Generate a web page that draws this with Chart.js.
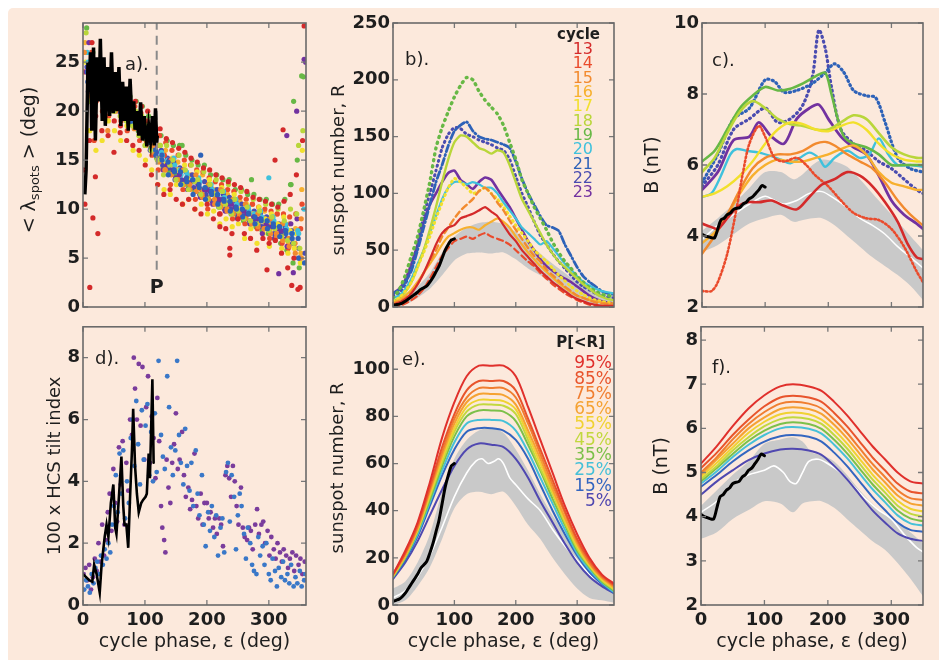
<!DOCTYPE html>
<html><head><meta charset="utf-8">
<script src="https://cdn.jsdelivr.net/npm/chart.js@4/dist/chart.umd.min.js"></script>
<style>
html,body{margin:0;padding:0;background:#fff;width:939px;height:660px;overflow:hidden;}
#bg{position:absolute;left:8px;top:8px;width:931px;height:652px;background:#fce9dc;border-top-left-radius:5px;}
canvas{position:absolute;}
</style></head><body>
<div id="bg"></div>
<canvas id="ca" width="305" height="320" style="left:8px;top:8px"></canvas>
<canvas id="cb" width="308" height="320" style="left:313px;top:8px"></canvas>
<canvas id="cc" width="312" height="320" style="left:621px;top:8px"></canvas>
<canvas id="cd" width="305" height="347" style="left:8px;top:313px"></canvas>
<canvas id="ce" width="308" height="347" style="left:313px;top:313px"></canvas>
<canvas id="cf" width="312" height="347" style="left:621px;top:313px"></canvas>
<script>
// ---------------- DATA ----------------
const cycles = ['13','14','15','16','17','18','19','20','21','22','23'];
const cycleColors = ['#d42a2a','#ea4b2c','#f28a2e','#f7b02e','#f2e02c','#b9d63a','#67b845','#3fc1dc','#2e62b8','#4a4cb0','#7232a0'];

// panel a: mean spot latitude per cycle, two interleaved samplings of phase
const phaseA = [5,15,25,35,45,55,65,75,85,95,105,115,125,135,145,155,165,175,185,195,205,215,225,235,245,255,265,275,285,295,305,315,325,335,345,355];
const phaseA2 = [10,20,30,40,50,60,70,80,90,100,110,120,130,140,150,160,170,180,190,200,210,220,230,240,250,260,270,280,290,300,310,320,330,340,350];
const offsetA = [-4.5,-3.6,-2.7,-1.8,-0.9,0,0.9,1.8,2.7,3.6,4.5];
const lat13 = [14,17,19.5,18,17.5,19,18.5,17,16.5,16,14.5,13.5,12.5,11.5,12,11,10.5,11,10,9.5,10.5,9,9.5,8,7.5,9,7.5,7,5.8,7,6.5,6.8,5.5,4,5,2];
const lat14 = [24,22,21,20,19.5,21,19,18,19.5,17,16.5,15.5,14,15.5,12.5,14,12,13,11,12,10,11.5,9.5,10.5,9,10,8.5,9.5,8,8.8,7,8,6.5,6,6.5,8];
const lat15 = [26,24,23,22,22.5,21,21.5,20,20,18.5,18.5,16.5,16.5,14,15,13,14,12.5,13.5,11.5,12.5,11,12,10,11,9.5,10.5,8.5,9.5,8,9,7.5,8.5,7,6.5,9];
const lat16 = [27,23.5,22.5,22,21,20.5,20,19.5,18.5,18,17.5,17,15,16,14.5,14.8,12.5,13.5,12,13.5,11,12,10.5,11.5,10,10.8,9.2,10.5,8.5,9.8,8.5,9.5,7.5,8.5,8,12];
const lat17 = [25,24,23,22.5,22.5,21,21.5,19.8,19.5,18.5,18.5,17,16.5,14.8,15.2,14,14.5,13,13.8,12,13,11.5,12.2,10.8,11.5,10,10.5,9.5,10.2,9,9.5,8.5,9.2,7.8,7.5,16];
const lat18 = [28,25,24,23,22.5,22.5,21.5,21,20,19.5,18.5,18,16.5,16.5,15,15.5,14,14.5,13,13.8,12.5,13,11.8,12.5,11,11.8,10.2,11,9.8,10.5,9.2,10,8.8,10,9.5,18];
const lat19 = [28.5,26,24.5,23.5,23,23,22,21.5,21,20.5,19.5,18.5,17.5,17,16.5,16.5,15.5,15,14.5,14.5,13.5,13.5,13,13,12,12,11.5,11.5,11,11,10.5,10.5,11,12.5,15,23.5];
const lat20 = [26,24,23,22,21.5,21,20.5,20,19.2,18.2,17.5,16.5,15.8,15,15.2,14,13.8,13,13.2,12.2,12.5,11.5,11.8,10.8,11,10,10.2,9.5,9.8,8.8,9.2,8.2,8.5,7.5,7.8,10];
const lat21 = [23,23.5,22,21,21,20.5,19.5,19,18.5,17.5,16.8,15.5,15,13.5,13.8,12.5,12.8,11.5,12.2,11,11.5,10.5,10.8,9.8,10,9.2,9.5,8.5,8.8,8,8.2,7.2,7.5,7,5,4.5];
const lat22 = [22,22.5,21.5,20.8,20.5,20,19.8,19,18.2,17.5,16,15.8,14.5,14.2,13,13,12,12.2,11.5,11.5,10.8,10.8,10,10,9.5,9.5,8.8,8.8,8.2,8.2,7.5,7.5,7,6.5,6,5.5];
const lat23 = [27,24,23,22,21,20.5,20,19.5,18.8,18,17,16.5,14,15,13.2,14,12,12.8,11.2,12,10.5,11,9.8,10.5,9,9.8,8.5,9,7.5,8,7,7.8,6.2,3.5,5,25];
const lat13b = [27,25,24,23.5,22.8,22.2,21.8,21,20.5,20,19.2,18.2,17.2,16.8,16.2,15.8,15.2,14.8,14.2,14,13.5,13.2,12.8,12.5,12.2,11.8,11.2,11,10.8,10.5,10.2,10.8,11.5,13.5,17];
const lat14b = [26,24.5,23.5,22.8,22,21.8,21,20.5,19.8,19,18.5,17.5,16.8,16,15.5,15,14.5,14,13.8,13.2,12.8,12.5,12,11.8,11.2,11,10.5,10.2,10,9.8,9.5,9.5,9.2,9.5,10.5];
const lat15b = [21.5,22,21,20.5,20,19.5,19,18.2,17.5,16.8,15.8,14.8,14,13.5,13,12.5,12,11.8,11.2,11,10.5,10.2,9.8,9.5,9.2,9,8.5,8.2,8,7.5,7.2,6.8,6.2,5.5,5];
const lat16b = [22.5,22,21.5,20.8,20.2,19.8,19.2,18.5,17.8,17,16.2,15.2,14.2,13.8,13.2,12.8,12.2,12,11.5,11.2,10.8,10.5,10,9.8,9.5,9,8.8,8.5,8.2,7.8,7.5,7,6.5,6,5.5];
const lat17b = [18,16,17,19,18,17,18.5,16,15.5,15,14,12.5,12,11.5,12.5,10.5,11,10,10.5,9.5,9.8,8.5,9,8.2,8.5,7,8,6.5,7.5,6.2,7,6,5.5,6,4.5];
const lat18b = [21,23,21.5,20.5,20,19.5,19,18.5,17.5,16.5,16,15,13.5,14.5,13,12.5,12,12.8,11.5,11,11.5,10.2,10.5,9.5,9.8,9,8.8,8.5,8.8,7.8,8,7.2,6.8,6.5,6];
const lat19b = [23,22.5,21.8,21.2,20.5,20,19.5,18.8,18,17.2,16.2,15.2,14.2,13.8,13.5,12.8,12.5,12,11.5,11.2,10.8,10.2,10,9.5,9.2,8.8,8.5,8.2,7.8,7.5,7,6.5,5.8,4.5,4];
const lat20b = [25,23,22.5,21.8,21.2,20.8,20.2,19.8,18.8,18.2,17.2,16.5,15.5,14.5,14.5,13.5,13.5,12.8,12.8,12,12,11.2,11.2,10.5,10.5,9.8,9.8,9.2,9.2,8.8,8.8,8.2,8,7.5,7.5];
const lat21b = [24,22.5,22,21.5,21,20.5,20,19,19,18,17,16,15.5,14.8,14,13.8,13.2,13,12.5,12.2,11.8,11.5,11,10.8,10.2,10,9.6,9.2,9,8.8,8.5,8.2,7.8,7.5,7];
const lat22b = [24.5,23.5,22.8,22,21.5,21.2,20.5,20,19.2,18.5,17.8,16.8,16,15.2,14.8,14.2,13.8,13.5,13,12.8,12.2,12,11.5,11.2,10.8,10.5,10,9.8,9.5,9.2,8.8,8.5,8.2,7.8,7.5];
const lat23b = [24,23,22.2,21.5,21,20.2,19.8,19.2,18.5,17.8,16.8,16,15,14.5,14,13.5,13,12.8,12.5,12,11.8,11.2,11,10.5,10.2,9.8,9.5,9.2,9,8.5,8.2,8,7.8,8.5,9];
const latCycles = [lat13,lat14,lat15,lat16,lat17,lat18,lat19,lat20,lat21,lat22,lat23];
const latCycles2 = [lat13b,lat14b,lat15b,lat16b,lat17b,lat18b,lat19b,lat20b,lat21b,lat22b,lat23b];
// extra scattered points: [cycle index, phase, latitude]
const latOutliers = [[0,11,2],[0,16,9.1],[0,24,7.5],[0,20,13.3],[0,3,10.5],[1,18,17],[0,50,15.8],[2,40,18],[0,60,17.8],
  [0,357,28.7],[10,357,25.3],[6,353,23.6],[6,340,21],[10,345,20],[0,323,18.1],[10,329,17.5],[0,310,15],[0,237,6],[0,237,5.3],
  [0,297,3.8],[10,316,3.4],[0,337,2.2],[0,347,1.8],[0,221,8.2],[6,335,12.5],[5,348,16.5],[7,300,13.2],[6,272,13],[8,190,15.5],[6,160,16.5]];
// current cycle (black) in panel a
const latNow = [[3,11.5],[5,14],[8,25],[10,22],[12,26],[14,18],[17,26.5],[20,17],[23,25.5],[26,21],[28,27.4],[31,19],[34,25.5],[36,18.5],[40,24.5],[43,19.5],[46,26],[49,19.8],[52,24],[55,20],[58,24.5],[61,18.5],[64,23],[67,19],[70,22.5],[73,18],[76,23.3],[79,19],[82,21],[84,18.1],[87,20],[90,17.5],[93,20.9],[96,17],[99,19.5],[103,16.4],[106,18.5],[109,17],[112,19.5],[115,16.5],[117,20.3],[119,16.8],[120,17.5]];
const phaseP = 119;

// panel b: sunspot number per cycle
const phaseB = [0,10,20,30,40,50,60,70,80,90,100,110,120,130,140,150,160,170,180,190,200,210,220,230,240,250,260,270,280,290,300,310,320,330,340,350,360];
const ssn13 = [2,4,7,12,20,30,42,55,65,70,72,78,80,82,85,88,84,80,72,64,58,50,44,38,32,27,22,18,14,10,7,5,3,2,1,1,1];
const ssn14 = [0,1,3,6,10,16,25,35,45,52,58,60,62,60,63,65,62,60,58,55,50,45,40,36,30,25,20,16,12,9,6,4,2,1,1,1,1];
const ssn15 = [3,5,8,13,20,30,40,50,62,70,78,85,90,95,102,105,100,92,85,76,68,60,52,45,40,33,28,23,18,14,10,8,6,4,3,3,3];
const ssn16 = [4,6,10,15,22,30,38,46,55,62,65,68,70,70,68,72,75,78,75,70,62,55,48,42,36,31,26,21,17,13,10,8,6,5,4,3,3];
const ssn17 = [5,8,14,22,35,48,62,78,92,105,113,110,105,100,102,105,100,95,88,80,72,65,58,50,45,40,34,28,23,18,14,11,8,6,5,4,4];
const ssn18 = [5,8,13,22,35,50,68,88,110,130,145,151,150,145,140,138,135,138,136,125,110,95,85,75,65,55,47,40,35,30,25,20,16,12,9,7,6];
const ssn19 = [8,15,28,45,62,85,110,140,158,172,185,195,202,200,190,182,176,170,160,145,130,112,100,88,78,68,57,48,40,34,27,22,17,14,11,10,9];
const ssn20 = [8,10,16,25,38,50,65,80,95,105,110,110,108,110,108,105,105,100,92,85,78,70,65,60,55,58,52,45,38,33,27,22,19,16,14,13,12];
const ssn21 = [12,15,22,32,50,70,90,110,125,142,155,160,163,155,150,148,147,145,143,140,128,113,100,90,80,72,70,67,55,45,35,27,22,18,14,12,11];
const ssn22 = [10,12,20,35,55,80,100,120,140,152,158,157,152,150,147,145,143,140,138,130,115,100,88,75,63,55,47,40,34,28,22,18,15,12,10,9,8];
const ssn23 = [12,16,24,38,55,75,90,100,110,118,120,112,108,104,110,114,112,104,96,88,78,68,58,50,42,36,32,28,25,22,18,14,10,7,5,4,3];
const ssnCycles = [ssn13,ssn14,ssn15,ssn16,ssn17,ssn18,ssn19,ssn20,ssn21,ssn22,ssn23];
const ssnNow = [[0,1.5],[5,2],[10,2.5],[15,3.5],[20,5],[25,7],[30,9],[35,11],[40,13],[45,15.5],[50,17],[55,18.5],[60,22],[65,26],[70,31],[75,36],[80,43],[85,50],[90,55],[95,59],[100,60]];
// range of the sunspot-number forecast (grey) and its median (white)
const bandPhaseR = [0,20,40,60,80,100,120,140,160,180,200,220,240,260,280,300,320,340,360];
const bandHiR = [7,10,18,30,48,62,70,74,75,73,66,57,47,38,30,22,15,11,8];
const bandLoR = [0,2,8,16,28,41,47,48,47,48,42,34,28,20,13,7,3,2,1];
const medR = [[0,3],[20,6],[40,12],[60,21],[80,33],[100,46],[120,56],[135,61],[145,62],[155,60],[165,61],[172,62],[180,60],[190,54],[200,51],[220,45],[240,40],[260,32],[280,25],[300,19],[320,13],[340,9],[360,6]];

// panel c: near-Earth field B per cycle [phase, nT]
const bC13 = [[0,4.35],[15,4.25],[25,4.2],[40,4.5],[55,4.8],[70,4.95],[90,4.95],[110,5.0],[130,4.85],[150,4.75],[170,5.1],[190,5.45],[210,5.6],[230,5.8],[250,5.7],[270,5.4],[290,4.95],[310,4.4],[325,3.8],[340,3.4],[350,3.35]];
const bC14 = [[0,2.45],[15,2.45],[25,2.7],[40,3.5],[55,4.8],[65,5.8],[75,6.6],[90,7.1],[100,6.8],[115,6.2],[130,6.1],[150,6.2],[165,6.0],[180,5.7],[200,5.4],[220,5.0],[240,4.65],[260,4.5],[280,4.45],[300,4.2],[320,3.7],[340,3.0],[350,2.7]];
const bC15 = [[0,3.5],[20,4.0],[40,4.6],[60,5.3],[80,5.9],[100,6.2],[120,6.3],[140,6.3],[160,6.4],[180,6.6],[195,6.65],[210,6.55],[230,6.3],[250,6.1],[270,5.9],[290,5.5],[310,5.0],[330,4.6],[350,4.3]];
const bC16 = [[0,3.8],[20,4.1],[40,4.6],[60,5.2],[80,5.7],[100,6.0],[120,6.15],[140,6.1],[160,6.1],[180,6.2],[200,6.3],[220,6.45],[240,6.55],[260,6.3],[280,5.8],[300,5.5],[320,5.4],[340,5.3],[350,5.3]];
const bC17 = [[0,5.1],[20,5.2],[40,5.4],[60,5.7],[80,6.1],[100,6.6],[120,7.0],[140,7.2],[160,7.15],[180,7.0],[200,6.95],[220,7.1],[240,7.2],[260,7.0],[280,6.6],[300,6.3],[320,6.15],[340,6.1],[350,6.1]];
const bC18 = [[0,5.8],[20,6.2],[40,6.9],[60,7.5],[80,7.8],[100,7.6],[120,7.3],[140,7.15],[160,7.1],[180,7.0],[200,7.0],[220,7.2],[240,7.4],[260,7.3],[280,6.9],[300,6.5],[320,6.3],[340,6.2],[350,6.2]];
const bC19 = [[0,6.1],[20,6.4],[40,7.0],[60,7.6],[80,7.95],[100,8.2],[120,8.1],[140,8.15],[160,8.3],[180,8.5],[195,8.6],[205,8.0],[215,7.3],[225,6.8],[240,6.6],[260,6.5],[280,6.3],[300,6.0],[320,6.0],[340,6.0],[350,6.0]];
const bC20 = [[0,5.1],[15,5.2],[30,5.7],[45,6.3],[55,6.45],[70,6.4],[90,6.35],[110,6.25],[125,6.15],[140,6.05],[155,6.2],[170,6.35],[185,6.2],[195,5.95],[210,6.2],[230,6.4],[250,6.2],[265,6.3],[280,6.75],[295,6.3],[310,6.0],[330,6.0],[350,5.95]];
const bC21 = [[0,5.5],[25,6.3],[50,7.3],[75,7.6],[100,8.4],[115,8.35],[130,8.05],[150,8.1],[175,8.3],[195,8.6],[210,8.85],[225,8.6],[240,8.1],[260,7.95],[275,7.9],[290,7.2],[310,6.2],[330,5.9],[350,5.8]];
const bC22 = [[0,5.4],[25,6.0],[50,7.0],[75,7.3],[100,7.6],[120,7.2],[140,7.3],[160,7.7],[175,8.5],[185,9.8],[195,9.3],[205,8.2],[220,7.0],[240,6.6],[260,6.4],[280,6.1],[300,5.9],[320,5.6],[340,5.3],[350,5.2]];
const bC23 = [[0,5.3],[25,5.8],[50,6.7],[75,6.8],[90,7.2],[110,6.8],[130,6.6],[150,7.3],[170,7.6],[185,7.7],[200,7.3],[220,6.8],[240,6.5],[260,6.3],[280,5.7],[300,5.0],[320,4.6],[340,4.35],[350,4.2]];
const bCycles = [bC13,bC14,bC15,bC16,bC17,bC18,bC19,bC20,bC21,bC22,bC23];
const bNow = [[0,4.05],[5,4.0],[10,3.98],[15,3.95],[20,3.95],[25,4.2],[30,4.45],[35,4.5],[40,4.6],[45,4.65],[50,4.75],[55,4.78],[60,4.8],[65,4.9],[70,4.95],[75,5.05],[80,5.1],[85,5.2],[90,5.3],[95,5.42],[100,5.38]];
const bandPhaseB = [0,25,50,75,100,125,145,160,175,190,210,230,250,270,290,310,330,350];
const cBandHi = [4.15,4.5,4.9,5.35,5.8,5.8,5.6,5.75,6.0,6.15,6.1,5.95,5.6,5.2,4.8,4.4,4.0,3.6];
const cBandLo = [3.55,3.75,4.05,4.35,4.5,4.6,4.4,4.45,4.5,4.5,4.3,4.0,3.7,3.4,3.15,2.9,2.6,2.2];
const cMed = [[0,3.9],[25,4.3],[50,4.6],[75,4.9],[100,5.12],[115,5.0],[130,4.9],[150,5.0],[170,5.2],[190,5.25],[210,5.05],[230,4.8],[250,4.5],[270,4.3],[290,4.05],[310,3.7],[330,3.4],[350,3.1]];

// panel d: HCS tilt index
const tiltBlue = [[2,0.5],[5,0.8],[8,0.6],[11,0.4],[14,1.0],[17,0.7],[20,1.2],[23,1.4],[26,1.0],[29,1.6],[32,1.3],[35,1.8],[38,1.5],[41,2.0],[44,1.7],[47,2.6],[50,3.2],[53,4.2],[56,3.0],[59,4.9],[62,3.6],[65,5.0],[68,2.8],[71,4.0],[74,3.3],[77,5.4],[80,6.0],[83,4.5],[86,6.6],[89,5.2],[92,3.9],[95,6.3],[98,4.7],[101,5.8],[104,6.5],[107,4.2],[110,5.6],[113,4.0],[116,6.2],[119,4.3],[122,7.9],[126,5.5],[129,4.8],[132,4.4],[136,7.4],[139,6.4],[142,5.1],[145,4.2],[149,5.0],[152,7.9],[155,5.5],[158,4.6],[162,3.9],[165,5.7],[168,4.5],[172,3.7],[175,4.6],[178,3.2],[182,5.0],[185,3.6],[188,2.9],[192,4.2],[195,2.6],[198,1.9],[202,3.0],[205,2.4],[208,3.2],[212,2.2],[215,2.9],[218,1.6],[222,2.5],[225,2.8],[228,1.7],[231,4.3],[234,4.6],[237,2.7],[240,4.2],[244,3.5],[247,1.8],[250,2.9],[253,3.6],[256,3.2],[260,2.3],[263,1.5],[266,2.5],[270,2.0],[273,1.3],[276,1.1],[280,1.0],[283,2.2],[286,1.6],[290,1.9],[293,1.3],[296,2.0],[300,1.0],[303,0.8],[306,1.5],[310,1.1],[313,0.6],[316,1.2],[320,0.9],[323,1.4],[326,0.8],[330,1.0],[333,0.7],[336,1.3],[340,0.6],[343,0.9],[346,0.7],[350,1.1],[353,0.6],[357,0.8],[359,1.0]];
const tiltPurple = [[1,1.0],[4,1.2],[7,0.8],[10,1.3],[13,0.5],[16,0.9],[19,1.5],[22,1.1],[25,2.0],[28,1.4],[31,2.6],[34,1.6],[37,2.1],[40,3.0],[43,3.6],[46,2.4],[49,4.4],[52,3.3],[55,2.7],[58,5.1],[61,3.9],[64,5.3],[67,2.6],[70,4.6],[73,3.7],[76,6.0],[79,5.5],[82,8.0],[84,7.0],[87,6.0],[90,7.8],[93,5.8],[96,7.7],[99,4.7],[102,6.4],[105,7.4],[108,4.6],[111,6.1],[114,5.4],[117,4.1],[120,6.7],[123,5.3],[126,3.2],[128,2.5],[131,2.1],[133,1.7],[135,4.7],[138,3.8],[141,3.3],[144,4.6],[147,5.2],[150,6.2],[153,4.4],[156,4.7],[160,5.6],[163,4.2],[166,3.5],[170,3.8],[173,3.1],[176,3.4],[180,4.9],[183,3.2],[186,2.8],[190,3.6],[193,2.6],[196,3.3],[200,3.3],[203,2.8],[206,3.0],[210,2.5],[213,2.8],[216,2.3],[220,2.8],[223,2.6],[226,1.9],[230,4.2],[233,4.5],[236,4.1],[239,3.5],[242,4.5],[245,4.0],[248,3.2],[251,2.6],[255,3.8],[258,2.5],[261,2.2],[265,2.1],[268,2.5],[271,2.4],[274,1.8],[278,2.6],[281,3.1],[284,2.3],[288,2.6],[291,2.7],[294,2.0],[298,2.4],[301,1.6],[304,2.2],[308,1.8],[311,1.5],[314,2.0],[318,1.7],[321,1.4],[324,1.8],[328,1.6],[331,1.2],[334,1.5],[338,1.7],[341,1.1],[344,1.6],[348,1.3],[351,1.5],[354,1.0],[358,1.4]];
const tiltNow = [[0,1.0],[5,0.9],[10,0.8],[15,0.75],[18,1.3],[22,1.0],[27,0.4],[30,1.3],[35,2.2],[38,2.6],[41,2.2],[45,3.3],[49,3.9],[52,2.5],[54,2.3],[58,3.5],[62,4.8],[65,3.2],[67,2.6],[70,2.6],[73,1.85],[76,3.5],[79,5.0],[81,6.35],[84,4.5],[87,3.6],[90,3.0],[94,3.3],[97,3.4],[101,3.5],[103,3.6],[106,4.9],[108,4.1],[112,7.3],[114,4.6]];

// panel e: probability levels of sunspot number
const pctLabels = ['95%','85%','75%','65%','55%','45%','35%','25%','15%','5%'];
const pctColors = ['#e0302c','#e8542c','#f07e30','#f5a232','#f0d232','#c2d83e','#7cc04a','#46c0d8','#3466c0','#5048b0'];
const phaseE = [0,20,40,60,80,100,120,140,160,180,200,220,240,260,280,300,320,340,360];
const rP95 = [13,23,35,52,71,86,97,101.5,101.5,101.5,97,84,70,56,42,30,20,13,9];
const rP85 = [13,22,34,50,67,81,91,95,95,95,91,79,66,53,40,28,19,12.5,8.5];
const rP75 = [13,22,33,49,65,79,88,92,92,92,88,77,64,51,39,27,18,12,8];
const rP65 = [12.5,21,32.5,48,63.5,77,86,89.5,89.5,89,85,74,62,49,37,26,17.5,11.5,7.5];
const rP55 = [12.5,21,32,47,62,75,84,87,87,86.5,83,72,60,48,36,25,17,11,7];
const rP45 = [12,20.5,31.5,46,60.5,73.5,82,85,85,84.5,81,70,58,47,35,24,16.5,10.5,6.5];
const rP35 = [12,20,31,44.5,59,71.5,80,82.5,82.5,82,78,68,57,45,34,23,16,10,6];
const rP25 = [12,20,30,43.5,57,69,77,78.5,78.5,78,74,65,54,43,32,22,15,9.5,5.5];
const rP15 = [11.5,19,29,42,55,66,73.5,75,75,74,70,62,51,40,30,21,14,9,5];
const rP5  = [11,18,27,38,49,59,66,68.5,68,67,62,54,44,35,26,18,12,8,5];
const rPct = [rP95,rP85,rP75,rP65,rP55,rP45,rP35,rP25,rP15,rP5];

// panel f: probability levels of B
const phaseF = [0,25,50,75,100,125,145,170,190,210,230,250,270,290,310,330,350];
const bP95 = [5.2,5.6,6.05,6.45,6.75,6.95,7.0,6.95,6.85,6.6,6.3,5.95,5.6,5.3,5.0,4.8,4.75];
const bP85 = [5.1,5.45,5.85,6.2,6.5,6.7,6.74,6.7,6.6,6.35,6.05,5.7,5.35,5.05,4.75,4.57,4.53];
const bP75 = [5.0,5.35,5.75,6.1,6.37,6.56,6.6,6.56,6.45,6.2,5.9,5.55,5.2,4.9,4.6,4.42,4.38];
const bP65 = [4.95,5.3,5.65,6.0,6.25,6.44,6.48,6.44,6.33,6.08,5.78,5.43,5.08,4.78,4.48,4.3,4.25];
const bP55 = [4.9,5.22,5.57,5.9,6.15,6.32,6.36,6.32,6.2,5.96,5.66,5.31,4.96,4.66,4.36,4.18,4.12];
const bP45 = [4.85,5.15,5.5,5.8,6.05,6.21,6.25,6.21,6.1,5.85,5.55,5.2,4.85,4.55,4.25,4.07,4.0];
const bP35 = [4.8,5.1,5.42,5.72,5.95,6.1,6.14,6.1,5.99,5.74,5.44,5.09,4.74,4.44,4.14,3.96,3.9];
const bP25 = [4.75,5.03,5.35,5.63,5.85,6.0,6.03,5.99,5.88,5.63,5.33,4.98,4.63,4.33,4.03,3.85,3.8];
const bP15 = [4.68,4.95,5.25,5.5,5.7,5.82,5.85,5.81,5.7,5.45,5.15,4.8,4.45,4.15,3.87,3.7,3.66];
const bP5  = [4.5,4.8,5.05,5.28,5.43,5.52,5.54,5.5,5.4,5.15,4.85,4.5,4.15,3.87,3.62,3.5,3.45];
const bPct = [bP95,bP85,bP75,bP65,bP55,bP45,bP35,bP25,bP15,bP5];
const fBandHi = [4.25,4.6,4.95,5.25,5.65,5.75,5.8,5.7,5.45,5.4,5.25,4.95,4.6,4.3,4.05,3.85,3.65,3.4];
const fBandLo = [3.5,3.65,3.95,4.15,4.35,4.3,4.1,4.3,4.35,4.35,4.2,3.95,3.7,3.45,3.25,2.95,2.6,2.2];
const fMed = [[0,4.1],[25,4.35],[50,4.75],[75,4.95],[100,5.05],[115,5.15],[130,5.0],[140,4.8],[150,4.75],[160,5.0],[170,5.25],[185,5.3],[200,5.2],[220,5.0],[240,4.7],[260,4.4],[280,4.15],[300,3.95],[320,3.6],[340,3.3],[350,3.2]];

// ---------------- HELPERS ----------------
const FONT = "'DejaVu Sans', 'Liberation Sans', sans-serif";
const TXT = '#1e1e1e';
Chart.defaults.font.family = FONT;
Chart.defaults.color = TXT;

const zip = (xs, ys) => xs.map((x, i) => ({x, y: ys[i]}));
const pairs = arr => arr.map(p => ({x: p[0], y: p[1]}));

const deco = {
  id: 'deco',
  afterDatasetsDraw(chart, args, o) {
    const {ctx, chartArea: a} = chart;
    const sx = chart.scales.x, sy = chart.scales.y;
    ctx.save();
    ctx.strokeStyle = '#777'; ctx.lineWidth = 1.3;
    ctx.beginPath();
    sx.ticks.forEach(t => { const p = sx.getPixelForValue(t.value);
      ctx.moveTo(p, a.bottom); ctx.lineTo(p, a.bottom - 5); ctx.moveTo(p, a.top); ctx.lineTo(p, a.top + 5); });
    sy.ticks.forEach(t => { const p = sy.getPixelForValue(t.value);
      ctx.moveTo(a.left, p); ctx.lineTo(a.left + 5, p); ctx.moveTo(a.right, p); ctx.lineTo(a.right - 5, p); });
    ctx.stroke();
    ctx.lineWidth = 1.6; ctx.strokeStyle = '#6a6a6a';
    ctx.strokeRect(a.left, a.top, a.width, a.height);

    // y title (rotated)
    ctx.fillStyle = TXT;
    ctx.save();
    ctx.translate(a.left - o.ytDx, (a.top + a.bottom) / 2 + (o.ytDy || 0));
    ctx.rotate(-Math.PI / 2);
    ctx.textBaseline = 'middle';
    const parts = o.ytParts;
    let tot = 0;
    parts.forEach(p => { ctx.font = `${p.size}px ${FONT}`; p.w = ctx.measureText(p.t).width; tot += p.w; });
    let cx = -tot / 2;
    parts.forEach(p => { ctx.font = `${p.size}px ${FONT}`; ctx.textAlign = 'left'; ctx.fillText(p.t, cx, p.dy || 0); cx += p.w; });
    ctx.restore();

    // panel label
    ctx.font = `18px ${FONT}`; ctx.textAlign = 'left'; ctx.textBaseline = 'middle';
    ctx.fillText(o.label, a.left + o.lx, a.top + o.ly);

    // legend texts
    if (o.legend) {
      const L = o.legend;
      ctx.textAlign = 'right';
      ctx.fillStyle = TXT; ctx.font = `bold ${L.hsize}px ${FONT}`;
      ctx.fillText(L.head, a.right - L.hdx, a.top + L.hdy);
      ctx.font = `${L.size}px ${FONT}`;
      L.items.forEach((t, i) => { ctx.fillStyle = L.colors[i]; ctx.fillText(t, a.right - L.dx, a.top + L.dy + i * L.step); });
    }
    if (o.extra) {
      const e = o.extra;
      ctx.fillStyle = TXT; ctx.font = `bold ${e.size}px ${FONT}`; ctx.textAlign = 'center';
      ctx.fillText(e.t, sx.getPixelForValue(e.x), sy.getPixelForValue(e.y));
    }
    ctx.restore();
  }
};

function makeChart(id, cfg) {
  const tickFont = {size: 18, weight: 'bold'};
  return new Chart(document.getElementById(id), {
    type: 'scatter',
    data: {datasets: cfg.datasets},
    options: {
      responsive: false, animation: false, events: [],
      layout: {padding: {left: 0, top: cfg.padTop, right: cfg.padRight, bottom: 0}},
      plugins: {legend: {display: false}, tooltip: {enabled: false}, deco: cfg.deco},
      elements: {point: {radius: 0}, line: {tension: cfg.tension || 0}},
      scales: {
        x: {type: 'linear', min: 0, max: cfg.xmax,
            ticks: {stepSize: 100, includeBounds: false, autoSkip: false, display: cfg.xLabels, padding: 5, color: TXT, font: tickFont},
            grid: {display: false, drawTicks: false}, border: {display: false},
            title: {display: cfg.xLabels, text: 'cycle phase, ε (deg)', color: TXT, font: {size: 19}, padding: {top: 0, bottom: 7}},
            afterFit: s => { s.height = cfg.xH; }},
        y: {type: 'linear', min: cfg.ymin, max: cfg.ymax,
            ticks: {stepSize: cfg.ystep, includeBounds: false, autoSkip: false, padding: 3, color: TXT, font: tickFont},
            grid: {display: false, drawTicks: false}, border: {display: false},
            afterFit: s => { s.width = cfg.yW; }}
      }
    },
    plugins: [deco]
  });
}

function lineDs(data, color, width, dash, order, extra) {
  return Object.assign({data, showLine: true, borderColor: color, backgroundColor: color, borderWidth: width,
    borderDash: dash || [], pointRadius: 0, fill: false, order, borderCapStyle: 'round', borderJoinStyle: 'round'}, extra || {});
}
function bandDs(lo, hi, color, order) {
  return [
    {data: lo, showLine: true, borderWidth: 0, borderColor: 'rgba(0,0,0,0)', pointRadius: 0, fill: false, order},
    {data: hi, showLine: true, borderWidth: 0, borderColor: 'rgba(0,0,0,0)', pointRadius: 0, fill: '-1', backgroundColor: color, order}
  ];
}

// ---------------- PANEL A ----------------
{
  const ds = [];
  latCycles.forEach((arr, k) => {
    const pts = arr.map((v, i) => ({x: phaseA[i] + offsetA[k], y: v}));
    latCycles2[k].forEach((v, i) => pts.push({x: phaseA2[i] + offsetA[10 - k], y: v}));
    latOutliers.filter(o => o[0] === k).forEach(o => pts.push({x: o[1], y: o[2]}));
    ds.push({data: pts, showLine: false, pointRadius: 2.6, pointBorderWidth: 0, backgroundColor: cycleColors[k], borderColor: cycleColors[k], order: 5 + ((k * 7) % 11)});
  });
  ds.push(lineDs([{x: phaseP, y: 3.8}, {x: phaseP, y: 29}], '#8a8a8a', 2, [9, 6], 1, {borderCapStyle: 'butt'}));
  ds.push(lineDs(pairs(latNow), '#000', 3.5, [], 0, {borderJoinStyle: 'miter', borderCapStyle: 'butt'}));
  makeChart('ca', {datasets: ds, padTop: 15, padRight: 7, xH: 21, yW: 75, xmax: 360, xLabels: false,
    ymin: 0, ymax: 29, ystep: 5,
    deco: {ytDx: 53, ytDy: -5, ytParts: [{t: '< λ', size: 19}, {t: 'spots', size: 13, dy: 6}, {t: ' > (deg)', size: 19}],
      label: 'a).', lx: 42, ly: 42, extra: {t: 'P', x: phaseP, y: 1.9, size: 19}}});
}

// ---------------- PANEL B ----------------
{
  const styles = [
    {w: 2.2, d: []}, {w: 2.2, d: [6, 4]}, {w: 2.4, d: [6, 4]}, {w: 2.2, d: []}, {w: 3, d: [1, 4]}, {w: 2.4, d: []},
    {w: 3.4, d: [1, 5]}, {w: 2.2, d: []}, {w: 2.8, d: [7, 3, 1, 3]}, {w: 3, d: [1, 4]}, {w: 2.6, d: []}];
  const ds = [];
  ds.push(lineDs(pairs(ssnNow), '#000', 3, [], 0));
  ssnCycles.forEach((arr, k) => ds.push(lineDs(zip(phaseB, arr), cycleColors[k], styles[k].w, styles[k].d, 1 + k)));
  bandDs(zip(bandPhaseR, bandLoR), zip(bandPhaseR, bandHiR), '#c9c9c9', 20).forEach(d => ds.push(d));
  makeChart('cb', {datasets: ds, padTop: 15, padRight: 7, xH: 21, yW: 80, xmax: 360, xLabels: false,
    ymin: 0, ymax: 250, ystep: 50, tension: 0.2,
    deco: {ytDx: 54, ytDy: 5, ytParts: [{t: 'sunspot number, R', size: 18}], label: 'b).', lx: 12, ly: 37,
      legend: {head: 'cycle', hsize: 15, hdx: 14, hdy: 12, size: 16, dx: 21, dy: 27, step: 14.3, items: cycles, colors: cycleColors}}});
}

// ---------------- PANEL C ----------------
{
  const styles = [
    {w: 2.6, d: []}, {w: 2.6, d: [1.5, 2.5]}, {w: 2.4, d: []}, {w: 2.4, d: []}, {w: 2.4, d: []}, {w: 2.6, d: []},
    {w: 2.6, d: []}, {w: 2.4, d: []}, {w: 3.2, d: [1, 3.5]}, {w: 3.2, d: [1, 4]}, {w: 2.8, d: []}];
  const ds = [];
  ds.push(lineDs(pairs(bNow), '#000', 3, [], 0));
  bCycles.forEach((arr, k) => ds.push(lineDs(pairs(arr), cycleColors[k], styles[k].w, styles[k].d, 1 + k)));
  ds.push(lineDs(pairs(cMed), '#ffffff', 1.5, [], 19));
  bandDs(zip(bandPhaseB, cBandLo), zip(bandPhaseB, cBandHi), '#c9c9c9', 20).forEach(d => ds.push(d));
  makeChart('cc', {datasets: ds, padTop: 15, padRight: 10, xH: 21, yW: 81, xmax: 350, xLabels: false,
    ymin: 2, ymax: 10, ystep: 2, tension: 0.3,
    deco: {ytDx: 49, ytDy: 0, ytParts: [{t: 'B (nT)', size: 19}], label: 'c).', lx: 10, ly: 38.5}});
}

// ---------------- PANEL D ----------------
{
  const ds = [];
  ds.push(lineDs(pairs(tiltNow), '#000', 2.6, [], 0, {borderJoinStyle: 'miter'}));
  ds.push({data: pairs(tiltBlue), showLine: false, pointRadius: 2.4, pointBorderWidth: 0, backgroundColor: '#3a78c8', order: 2});
  ds.push({data: pairs(tiltPurple), showLine: false, pointRadius: 2.4, pointBorderWidth: 0, backgroundColor: '#7a3c9c', order: 3});
  makeChart('cd', {datasets: ds, padTop: 10, padRight: 7, xH: 55, yW: 75, xmax: 360, xLabels: true,
    ymin: 0, ymax: 9, ystep: 2,
    deco: {ytDx: 28, ytDy: 0, ytParts: [{t: '100 x HCS tilt index', size: 18}], label: 'd).', lx: 12, ly: 33}});
}

// ---------------- PANEL E ----------------
{
  const ds = [];
  ds.push(lineDs(pairs(ssnNow), '#000', 3, [], 0));
  rPct.forEach((arr, k) => ds.push(lineDs(zip(phaseE, arr), pctColors[k], 2, [], 1 + k)));
  ds.push(lineDs(pairs(medR), '#ffffff', 1.6, [], 19));
  bandDs(zip(bandPhaseR, bandLoR), zip(bandPhaseR, bandHiR), '#c9c9c9', 20).forEach(d => ds.push(d));
  makeChart('ce', {datasets: ds, padTop: 10, padRight: 7, xH: 55, yW: 80, xmax: 360, xLabels: true,
    ymin: 0, ymax: 118, ystep: 20, tension: 0.3,
    deco: {ytDx: 55, ytDy: 2, ytParts: [{t: 'sunspot number, R', size: 18}], label: 'e).', lx: 9, ly: 34,
      legend: {head: 'P[<R]', hsize: 15, hdx: 9, hdy: 16, size: 17, dx: 2, dy: 37, step: 15.3, items: pctLabels, colors: pctColors}}});
}

// ---------------- PANEL F ----------------
{
  const ds = [];
  ds.push(lineDs(pairs(bNow), '#000', 3, [], 0));
  bPct.forEach((arr, k) => ds.push(lineDs(zip(phaseF, arr), pctColors[k], 2, [], 1 + k)));
  ds.push(lineDs(pairs(fMed), '#ffffff', 1.6, [], 19));
  bandDs(zip(bandPhaseB, fBandLo), zip(bandPhaseB, fBandHi), '#c9c9c9', 20).forEach(d => ds.push(d));
  makeChart('cf', {datasets: ds, padTop: 10, padRight: 10, xH: 55, yW: 80, xmax: 350, xLabels: true,
    ymin: 2, ymax: 8.3, ystep: 1, tension: 0.3,
    deco: {ytDx: 39, ytDy: 0, ytParts: [{t: 'B (nT)', size: 19}], label: 'f).', lx: 11, ly: 42}});
}
</script>
</body></html>
